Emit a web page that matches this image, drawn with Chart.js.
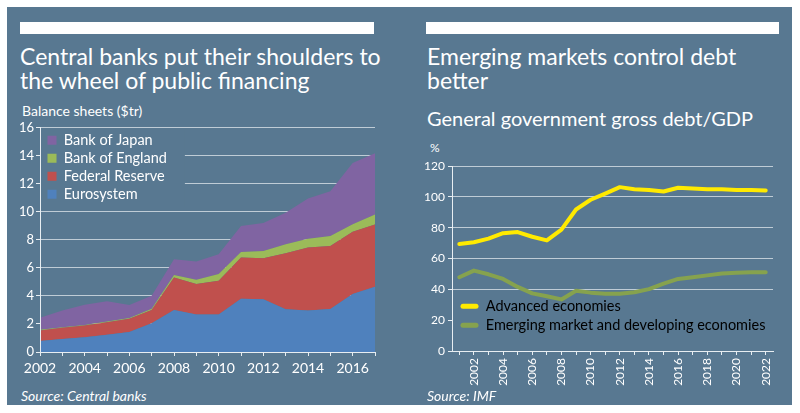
<!DOCTYPE html>
<html>
<head>
<meta charset="utf-8">
<script src="https://cdn.jsdelivr.net/npm/chart.js@4.4.1/dist/chart.umd.min.js"></script>
<style>
  html, body { margin: 0; padding: 0; background: #fff; width: 800px; height: 413px; overflow: hidden; }
  body { position: relative; font-family: Lato, "Open Sans", sans-serif; color: #fff; }
  #panel { position: absolute; left: 7px; top: 7px; width: 785px; height: 398px; background: #587891; }
  .bar { position: absolute; top: 22px; height: 12px; background: #fff; }
  .title { position: absolute; top: 44px; font-size: 23px; line-height: 24px; white-space: nowrap; }
  .sub { position: absolute; top: 106px; font-size: 20px; line-height: 24px; white-space: nowrap; }
  .unit { position: absolute; font-size: 14px; line-height: 16px; white-space: nowrap; }
  .source { position: absolute; top: 388px; font-size: 14px; line-height: 16px; font-style: italic; }
  canvas { position: absolute; }
</style>
</head>
<body>
<div id="panel"></div>
<div class="bar" style="left:20px;width:354px"></div>
<div class="bar" style="left:426px;width:353px"></div>

<div class="title" style="left:20px">Central banks put their shoulders to<br>the wheel of public financing</div>
<div class="unit" style="left:22px;top:103px">Balance sheets ($tr)</div>
<canvas id="banksChart" width="380" height="262" style="left:10px;top:118px"></canvas>
<div class="source" style="left:21px">Source: Central banks</div>

<div class="title" style="left:427px">Emerging markets control debt<br>better</div>
<div class="sub" style="left:427px">General government gross debt/GDP</div>
<div class="unit" style="left:430px;top:140px;font-size:12px">%</div>
<canvas id="debtChart" width="385" height="235" style="left:405px;top:156px"></canvas>
<div class="source" style="left:427px">Source: IMF</div>

<script>
const PANEL = '#587891';
const GRID = 'rgba(225,232,238,0.75)';

// balance sheets, $tr
const years = ['2002','2003','2004','2005','2006','2007','2008','2009','2010','2011','2012','2013','2014','2015','2016','2017'];
const eurosystem    = [0.78, 0.92, 1.06, 1.23, 1.42, 2.06, 3.00, 2.67, 2.67, 3.80, 3.77, 3.05, 2.96, 3.07, 4.14, 4.66];
const fedReserve    = [0.76, 0.81, 0.83, 0.90, 0.95, 0.94, 2.32, 2.18, 2.41, 2.94, 2.92, 4.00, 4.49, 4.50, 4.44, 4.44];
const bankOfEngland = [0.04, 0.04, 0.04, 0.05, 0.05, 0.08, 0.17, 0.31, 0.48, 0.40, 0.51, 0.64, 0.64, 0.71, 0.53, 0.71];
const bankOfJapan   = [0.86, 1.19, 1.45, 1.44, 0.94, 0.94, 1.13, 1.29, 1.42, 1.85, 2.01, 2.24, 2.86, 3.19, 4.37, 4.37];

// gross debt / GDP, %
const debtYears = ['2001','2002','2003','2004','2005','2006','2007','2008','2009','2010','2011','2012','2013','2014','2015','2016','2017','2018','2019','2020','2021','2022'];
const advanced = [69.5, 70.6, 73.0, 76.5, 77.2, 74.2, 71.8, 78.8, 91.9, 98.2, 102.2, 106.4, 105.0, 104.6, 103.6, 106.0, 105.5, 105.0, 105.0, 104.6, 104.6, 104.2];
const emerging = [47.9, 52.2, 49.8, 46.8, 41.6, 37.4, 35.6, 33.5, 39.1, 37.9, 37.2, 37.2, 38.1, 40.2, 43.7, 46.8, 47.9, 49.1, 50.3, 50.8, 51.2, 51.2];

// legend floats inside the plot: pin it, then blank the grid behind it
const legendInside = {
  id: 'legendInside',
  afterLayout(chart, args, opts) {
    const l = chart.legend;
    l.left = opts.x;
    l.top = opts.y;
    l.bottom = opts.y + 300;
    l.right = l.left + l.width;
  },
  beforeDatasetsDraw(chart, args, opts) {
    const l = chart.legend, ca = chart.chartArea, ctx = chart.ctx;
    const lab = l.options.labels, fs = lab.font.size, pad = lab.padding;
    const n = l.legendItems.length;
    const top = Math.max(l.top + 1, ca.top + 2);
    const bottom = Math.min(l.top + pad + n * (fs + pad) + 2, ca.bottom - 1);
    const right = Math.min(l.left + l.width + opts.extra, ca.right);
    ctx.save();
    ctx.fillStyle = PANEL;
    ctx.fillRect(ca.left + 1, top, right - ca.left - 1, bottom - top);
    ctx.restore();
    l.draw();
  }
};

const area = (label, data, color, fill) => ({
  label, data, fill, backgroundColor: color, borderColor: color,
  borderWidth: 0, pointRadius: 0, tension: 0
});

new Chart(document.getElementById('banksChart'), {
  type: 'line',
  data: {
    labels: years,
    datasets: [
      area('Eurosystem', eurosystem, '#4f81bd', 'origin'),
      area('Federal Reserve', fedReserve, '#c0504d', '-1'),
      area('Bank of England', bankOfEngland, '#9bbb59', '-1'),
      area('Bank of Japan', bankOfJapan, '#8064a2', '-1')
    ]
  },
  options: {
    responsive: false, animation: false, devicePixelRatio: 1,
    layout: { padding: { top: 8, right: 15, left: 0, bottom: 0 } },
    plugins: {
      tooltip: { enabled: false },
      legendInside: { x: 34, y: 11.5, extra: 8 },
      legend: {
        position: 'chartArea', align: 'start', reverse: true,
        labels: { color: '#fff', boxWidth: 9, boxHeight: 9, padding: 3.5, font: { family: 'Lato', size: 14.5 } }
      }
    },
    scales: {
      x: {
        grid: { drawOnChartArea: false, tickLength: 4, tickColor: '#e8eef2' },
        border: { color: '#e8eef2', z: 1 },
        ticks: {
          color: '#fff', autoSkip: false, maxRotation: 0, padding: 4,
          font: { family: 'Lato', size: 14 },
          callback: (v, i) => i % 2 === 0 ? years[i] : ''
        },
        afterFit: s => { s.height = 28; }
      },
      y: {
        stacked: true, min: 0, max: 16,
        grid: { color: GRID, tickLength: 4, tickColor: '#e8eef2' },
        border: { color: '#e8eef2', z: 1 },
        ticks: { stepSize: 2, color: '#fff', padding: 2, font: { family: 'Lato', size: 13 } },
        afterFit: s => { s.width = 30; }
      }
    }
  },
  plugins: [legendInside]
});

const line = (label, data, color) => ({
  label, data, fill: false, borderColor: color, backgroundColor: color,
  borderWidth: 4, pointRadius: 0, tension: 0, borderJoinStyle: 'round', borderCapStyle: 'round'
});

new Chart(document.getElementById('debtChart'), {
  type: 'line',
  data: {
    labels: debtYears,
    datasets: [
      line('Advanced economies', advanced, '#ffea00'),
      line('Emerging market and developing economies', emerging, '#86a24e')
    ]
  },
  options: {
    responsive: false, animation: false, devicePixelRatio: 1,
    layout: { padding: { top: 8, right: 17, left: 0, bottom: 0 } },
    plugins: {
      tooltip: { enabled: false },
      legendInside: { x: 51, y: 138.5, extra: 2 },
      legend: {
        position: 'chartArea', align: 'start',
        labels: {
          color: '#fff', boxWidth: 18, boxHeight: 5, padding: 4.5, useBorderRadius: true, borderRadius: 2.5,
          font: { family: 'Lato', size: 14.5 },
          generateLabels: chart => chart.data.datasets.map((d, i) => ({
            text: d.label, fillStyle: d.borderColor, strokeStyle: d.borderColor, lineWidth: 0,
            borderRadius: 2.5, datasetIndex: i, hidden: false
          }))
        }
      }
    },
    scales: {
      x: {
        offset: true,
        grid: { drawOnChartArea: false, tickLength: 4, tickColor: '#e8eef2' },
        border: { color: '#e8eef2', z: 1 },
        ticks: {
          color: '#fff', autoSkip: false, minRotation: 90, maxRotation: 90, padding: 3,
          font: { family: 'Lato', size: 12 },
          callback: (v, i) => i % 2 === 1 ? debtYears[i] : ''
        },
        afterFit: s => { s.height = 40; }
      },
      y: {
        min: 0, max: 120,
        grid: { color: GRID, tickLength: 4, tickColor: '#e8eef2' },
        border: { color: '#e8eef2', z: 1 },
        ticks: { stepSize: 20, color: '#fff', padding: 3, font: { family: 'Lato', size: 12 } },
        afterFit: s => { s.width = 47; }
      }
    }
  },
  plugins: [legendInside]
});
</script>
</body>
</html>
